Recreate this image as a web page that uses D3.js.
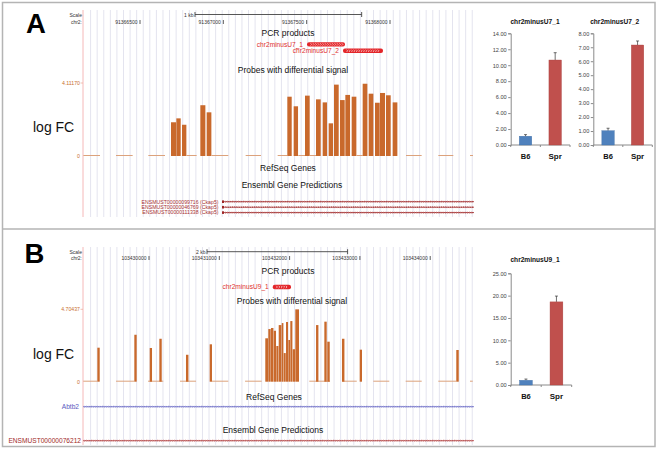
<!DOCTYPE html>
<html><head><meta charset="utf-8">
<script src="https://cdn.jsdelivr.net/npm/d3@7"></script>
<style>body{margin:0;background:#fff}svg{display:block}</style>
</head><body><svg id="c" width="661" height="450"></svg>
<script>
// ---------------- DATA ----------------
// Panel A genome browser (chr2)
const regionA = [91366158, 91368504];
const coordTicksA = [91366500, 91367000, 91367500, 91368000];
const scaleBarA = [91366830, 91367830];
const scaleLabelA = "1 kb";
const pcrNamesA = ["chr2minusU7_1", "chr2minusU7_2"];
const pcrStartsA = [91367502, 91367718];
const pcrEndsA = [91367730, 91367958];
const probeStartA = [91366686,91366718,91366752,91366862,91366900,91367384,91367422,91367490,91367556,91367596,91367632,91367664,91367700,91367732,91367770,91367836,91367872,91367910,91367940,91367976,91368016];
const probeEndA   = [91366718,91366746,91366780,91366894,91366930,91367412,91367450,91367520,91367586,91367624,91367660,91367694,91367730,91367762,91367800,91367866,91367902,91367940,91367972,91368006,91368046];
const probeValueA = [1.90,2.12,1.76,2.86,2.46,3.34,2.80,3.40,3.19,3.02,1.84,4.02,3.15,3.44,3.34,4.07,3.51,3.00,3.55,3.42,3.02];
const zeroStartA = [91366160,91366356,91366550,91366780,91366930,91367134,91367326,91367450,91367520,91367800,91368096,91368290,91368480];
const zeroEndA   = [91366260,91366456,91366650,91366840,91367030,91367226,91367384,91367490,91367556,91367836,91368190,91368380,91368498];
const signalMaxA = 4.11170, signalMaxLabelA = "4.11170";
const transcriptNamesA = ["ENSMUST00000099716 (Ckap5)", "ENSMUST00000046769 (Ckap5)", "ENSMUST00000111338 (Ckap5)"];
const transcriptStartA = 91366992;

// Panel B genome browser (chr2)
const regionB = [103429061, 103434623];
const coordTicksB = [103430000, 103431000, 103432000, 103433000, 103434000];
const scaleBarB = [103430825, 103432825];
const scaleLabelB = "2 kb";
const pcrNamesB = ["chr2minusU9_1"];
const pcrStartsB = [103431760];
const pcrEndsB = [103432020];
const probeStartB = [103429265,103429791,103430010,103430147,103430526,103430863,103431654,103431697,103431735,103431774,103431811,103431845,103431888,103431916,103431949,103431982,103432010,103432044,103432081,103432376,103432494,103432536,103432745,103432997,103434371];
const probeEndB   = [103429303,103429829,103430047,103430185,103430565,103430900,103431697,103431735,103431774,103431811,103431845,103431888,103431916,103431949,103431982,103432010,103432044,103432081,103432138,103432414,103432532,103432575,103432784,103433034,103434410];
const probeValueB = [2.21,3.05,2.19,2.79,1.75,2.43,2.82,3.42,3.49,3.31,2.32,3.68,3.81,1.86,3.88,2.71,3.94,2.11,4.70,3.68,3.90,2.60,2.79,2.08,2.06];
const zeroStartB = [103429065,103429531,103429986,103430441,103430892,103431366,103432280,103432750,103433191,103433651,103434115,103434566];
const zeroEndB   = [103429265,103429791,103430203,103430669,103431128,103431603,103432575,103432955,103433418,103433879,103434371,103434605];
const signalMaxB = 4.70437, signalMaxLabelB = "4.70437";
const refseqNameB = "Abtb2";
const ensemblNameB = "ENSMUST00000076212";

// qPCR bar charts
const qpcrCategories = ["B6", "Spr"];
const qpcrTitles = ["chr2minusU7_1", "chr2minusU7_2", "chr2minusU9_1"];
const qpcrU7_1 = [1.10, 10.65];
const qpcrU7_1Err = [0.20, 0.92];
const qpcrU7_2 = [1.02, 7.16];
const qpcrU7_2Err = [0.18, 0.29];
const qpcrU9_1 = [1.05, 18.6];
const qpcrU9_1Err = [0.28, 1.3];
const qpcrMax = [14, 8, 25];
const qpcrStep = [2, 1, 5];

const trackTitles = ["PCR products", "Probes with differential signal", "RefSeq Genes", "Ensembl Gene Predictions"];

// ---------------- DRAW ----------------
const FONT = '"Liberation Sans", Arial, Helvetica, sans-serif';
const svg = d3.select("#c").style("font-family", FONT);
const bar = "#c9692c", zeroCol = "#dca27c", gridCol = "#e4e4ef";

// frame
svg.append("rect").attr("x", 2.5).attr("y", 2.5).attr("width", 652.5).attr("height", 444)
  .attr("fill", "none").attr("stroke", "#b4b4b4").attr("stroke-width", 1.5);
svg.append("line").attr("x1", 2.5).attr("x2", 655).attr("y1", 229).attr("y2", 229)
  .attr("stroke", "#b4b4b4").attr("stroke-width", 1.5);

function chevrons(g, x0, x1, y, h, col, step) {
  let p = "";
  for (let xx = x0 + 1.5; xx < x1 - 1; xx += step) {
    p += `M${xx},${y - h}L${xx + h},${y}L${xx},${y + h}`;
  }
  g.append("path").attr("d", p).attr("fill", "none").attr("stroke", col).attr("stroke-width", 0.6);
}

function drawBrowser(g, D, L) {
  const x = d3.scaleLinear().domain(D.region).range(L.xRange);
  const y = d3.scaleLinear().domain([0, D.max]).range([L.sig0, L.sigMax]);
  // guidelines
  const gx = d3.range(L.xRange[0] + 7.6, L.xRange[1] + 1, 6.58);
  g.append("g").selectAll("line").data(gx).join("line")
    .attr("x1", d => d).attr("x2", d => d).attr("y1", L.gridTop).attr("y2", L.gridBottom)
    .attr("stroke", gridCol).attr("stroke-width", 1);
  g.append("line").attr("x1", L.xRange[0]).attr("x2", L.xRange[0]).attr("y1", L.gridTop).attr("y2", L.gridBottom)
    .attr("stroke", "#f5b8b8").attr("stroke-width", 1);

  // scale row
  g.append("text").attr("x", L.xRange[0] - 1).attr("y", L.scaleY).attr("text-anchor", "end")
    .attr("font-size", 5).attr("fill", "#333").text("Scale");
  g.append("text").attr("x", L.xRange[0] - 1).attr("y", L.chrY).attr("text-anchor", "end")
    .attr("font-size", 5).attr("fill", "#333").text("chr2:");
  const sb = g.append("g").attr("stroke", "#444").attr("stroke-width", 0.9);
  sb.append("line").attr("x1", x(D.scaleBar[0])).attr("x2", x(D.scaleBar[1])).attr("y1", L.barY).attr("y2", L.barY);
  sb.append("line").attr("x1", x(D.scaleBar[0])).attr("x2", x(D.scaleBar[0])).attr("y1", L.barY - 2.5).attr("y2", L.barY + 2.5);
  sb.append("line").attr("x1", x(D.scaleBar[1])).attr("x2", x(D.scaleBar[1])).attr("y1", L.barY - 2.5).attr("y2", L.barY + 2.5);
  g.append("text").attr("x", x(D.scaleBar[0]) - 1.5).attr("y", L.scaleY).attr("text-anchor", "end")
    .attr("font-size", 5).attr("fill", "#333").text(D.scaleLabel);
  const ct = g.append("g").selectAll("g").data(D.coords).join("g");
  ct.append("text").attr("x", d => x(d) - 2.5).attr("y", L.chrY).attr("text-anchor", "end")
    .attr("font-size", 5).attr("fill", "#333").text(d => d);
  ct.append("line").attr("x1", d => x(d)).attr("x2", d => x(d)).attr("y1", L.chrY - 4).attr("y2", L.chrY)
    .attr("stroke", "#333").attr("stroke-width", 0.8);

  // PCR products
  g.append("text").attr("x", L.pcrTitleX).attr("y", L.pcrTitleY).attr("text-anchor", "middle")
    .attr("font-size", 8.5).attr("fill", "#111").text(trackTitles[0]);
  D.pcrNames.forEach((nm, i) => {
    const cy = L.pcrRows[i], x0 = x(D.pcrStarts[i]), x1 = x(D.pcrEnds[i]);
    g.append("rect").attr("x", x0).attr("y", cy - 2.2).attr("width", x1 - x0).attr("height", 4.4)
      .attr("rx", 2).attr("fill", "#e3262a");
    chevrons(g, x0 + 2, x1 - 2, cy, 1.2, "#fff", 2.4);
    g.append("text").attr("x", x0 - 4).attr("y", cy + 2.3).attr("text-anchor", "end")
      .attr("font-size", 6.6).attr("fill", "#e0302e").text(nm);
  });

  // Signal track
  g.append("text").attr("x", L.probeTitleX).attr("y", L.probeTitleY).attr("text-anchor", "middle")
    .attr("font-size", 8.5).attr("fill", "#111").text(trackTitles[1]);
  g.append("text").attr("x", 33).attr("y", L.logfcY).attr("font-size", 14).attr("fill", "#111").text("log FC");
  g.append("text").attr("x", L.xRange[0] - 3).attr("y", y(D.max) + 1.8).attr("text-anchor", "end")
    .attr("font-size", 5.2).attr("fill", "#c8702e").text(D.maxLabel);
  g.append("text").attr("x", L.xRange[0] - 3).attr("y", y(0) + 1.8).attr("text-anchor", "end")
    .attr("font-size", 5.2).attr("fill", "#c8702e").text("0");
  g.append("line").attr("x1", L.xRange[0] - 2.5).attr("x2", L.xRange[0]).attr("y1", y(D.max)).attr("y2", y(D.max))
    .attr("stroke", "#f0b0a0").attr("stroke-width", 0.8);
  g.append("g").selectAll("line").data(D.zeroStart.map((s, i) => [s, D.zeroEnd[i]])).join("line")
    .attr("x1", d => x(d[0])).attr("x2", d => x(d[1])).attr("y1", y(0) - 0.5).attr("y2", y(0) - 0.5)
    .attr("stroke", zeroCol).attr("stroke-width", 1);
  g.append("g").selectAll("rect").data(D.probeStart.map((s, i) => [s, D.probeEnd[i], D.probeValue[i]])).join("rect")
    .attr("x", d => x(d[0])).attr("width", d => Math.max(0.8, x(d[1]) - x(d[0]) - 0.3))
    .attr("y", d => y(d[2])).attr("height", d => y(0) - y(d[2]))
    .attr("fill", bar);

  // gene tracks titles
  g.append("text").attr("x", L.refX).attr("y", L.refY).attr("text-anchor", "middle")
    .attr("font-size", 8.5).attr("fill", "#111").text(trackTitles[2]);
  g.append("text").attr("x", L.ensX).attr("y", L.ensY).attr("text-anchor", "middle")
    .attr("font-size", 8.5).attr("fill", "#111").text(trackTitles[3]);
  return x;
}

// ---- Panel A ----
const gA = svg.append("g");
gA.append("text").attr("x", 36).attr("y", 33).attr("text-anchor", "middle")
  .attr("font-size", 27.5).attr("font-weight", "bold").attr("fill", "#000").text("A");
const xA = drawBrowser(gA, {
  region: regionA, coords: coordTicksA, scaleBar: scaleBarA, scaleLabel: scaleLabelA,
  pcrNames: pcrNamesA, pcrStarts: pcrStartsA, pcrEnds: pcrEndsA,
  probeStart: probeStartA, probeEnd: probeEndA, probeValue: probeValueA,
  zeroStart: zeroStartA, zeroEnd: zeroEndA, max: signalMaxA, maxLabel: signalMaxLabelA
}, {
  xRange: [83, 474], gridTop: 10, gridBottom: 217,
  scaleY: 16.5, chrY: 24, barY: 14.5,
  pcrTitleX: 288, pcrTitleY: 36, pcrRows: [44.4, 50.8],
  probeTitleX: 293, probeTitleY: 72.8, sig0: 156, sigMax: 83, logfcY: 132,
  refX: 288, refY: 171, ensX: 292, ensY: 187.8
});
const txRowsA = [201.7, 207.2, 212.6];
transcriptNamesA.forEach((nm, i) => {
  const yy = txRowsA[i], x0 = xA(transcriptStartA), x1 = xA(regionA[1]);
  gA.append("line").attr("x1", x0).attr("x2", x1).attr("y1", yy).attr("y2", yy)
    .attr("stroke", "#9e2424").attr("stroke-width", 0.8);
  chevrons(gA, x0 + 2, x1, yy, 0.9, "#9e2424", 2.2);
  gA.append("rect").attr("x", x0).attr("y", yy - 1.3).attr("width", 2).attr("height", 2.6).attr("fill", "#9e2424");
  gA.append("text").attr("x", x0 - 3.5).attr("y", yy + 1.8).attr("text-anchor", "end")
    .attr("font-size", 5.2).attr("fill", "#a83030").text(nm);
});

// ---- Panel B ----
const gB = svg.append("g");
gB.append("text").attr("x", 34.5).attr("y", 263).attr("text-anchor", "middle")
  .attr("font-size", 27.5).attr("font-weight", "bold").attr("fill", "#000").text("B");
const xB = drawBrowser(gB, {
  region: regionB, coords: coordTicksB, scaleBar: scaleBarB, scaleLabel: scaleLabelB,
  pcrNames: pcrNamesB, pcrStarts: pcrStartsB, pcrEnds: pcrEndsB,
  probeStart: probeStartB, probeEnd: probeEndB, probeValue: probeValueB,
  zeroStart: zeroStartB, zeroEnd: zeroEndB, max: signalMaxB, maxLabel: signalMaxLabelB
}, {
  xRange: [83, 474], gridTop: 247, gridBottom: 445,
  scaleY: 253.8, chrY: 260, barY: 251.7,
  pcrTitleX: 288, pcrTitleY: 273.8, pcrRows: [287],
  probeTitleX: 292, probeTitleY: 304.4, sig0: 381.7, sigMax: 309.3, logfcY: 359,
  refX: 274, refY: 400, ensX: 273, ensY: 432.8
});
// RefSeq Abtb2 and Ensembl transcript
{
  const yy = 406.7, x0 = xB(regionB[0]), x1 = xB(regionB[1]);
  gB.append("line").attr("x1", x0).attr("x2", x1).attr("y1", yy).attr("y2", yy).attr("stroke", "#6767c4").attr("stroke-width", 0.8);
  chevrons(gB, x0, x1, yy, 0.9, "#6767c4", 2.2);
  gB.append("text").attr("x", x0 - 4).attr("y", yy + 2).attr("text-anchor", "end")
    .attr("font-size", 6.6).attr("fill", "#5a5ac0").text(refseqNameB);
  const y2 = 440.7;
  gB.append("line").attr("x1", x0).attr("x2", x1).attr("y1", y2).attr("y2", y2).attr("stroke", "#b03a3a").attr("stroke-width", 0.8);
  chevrons(gB, x0, x1, y2, 0.9, "#b03a3a", 2.2);
  gB.append("text").attr("x", x0 - 2).attr("y", y2 + 2.3).attr("text-anchor", "end")
    .attr("font-size", 6.6).attr("fill", "#a02828").text(ensemblNameB);
}

// ---- qPCR charts ----
function drawQpcr(title, vals, errs, yMax, yStep, L) {
  const g = svg.append("g");
  const y = d3.scaleLinear().domain([0, yMax]).range([L.y0, L.y1]);
  const x = d3.scaleBand().domain(qpcrCategories).range([L.x0, L.x1]).paddingInner(0.58).paddingOuter(0.29);
  const ax = g.append("g").attr("transform", `translate(${L.x0},0)`)
    .call(d3.axisLeft(y).tickValues(d3.range(0, yMax + 1e-9, yStep)).tickFormat(d3.format(".2f")).tickSize(2.5).tickPadding(1.5));
  ax.select(".domain").attr("stroke", "#8a8a8a").attr("stroke-width", 1);
  ax.selectAll(".tick line").attr("stroke", "#8a8a8a");
  ax.selectAll(".tick text").attr("font-size", 5.6).attr("fill", "#444").attr("font-family", FONT);
  // x axis
  g.append("line").attr("x1", L.x0).attr("x2", L.x1).attr("y1", L.y0).attr("y2", L.y0).attr("stroke", "#8a8a8a").attr("stroke-width", 1);
  const bounds = [L.x0, (x("B6") + x.bandwidth() + x("Spr")) / 2, L.x1];
  g.selectAll(".xt").data(bounds).join("line").attr("x1", d => d).attr("x2", d => d).attr("y1", L.y0).attr("y2", L.y0 + 2)
    .attr("stroke", "#8a8a8a");
  const cols = ["#4f81bd", "#c0504d"];
  const strokes = ["#3f6ea6", "#a8403e"];
  qpcrCategories.forEach((c, i) => {
    const bx = x(c), bw = x.bandwidth(), cx = bx + bw / 2;
    g.append("line").attr("x1", cx).attr("x2", cx).attr("y1", y(vals[i])).attr("y2", y(vals[i] + errs[i])).attr("stroke", "#333").attr("stroke-width", 0.7);
    g.append("line").attr("x1", cx - 1.5).attr("x2", cx + 1.5).attr("y1", y(vals[i] + errs[i])).attr("y2", y(vals[i] + errs[i])).attr("stroke", "#333").attr("stroke-width", 0.7);
    g.append("rect").attr("x", bx).attr("y", y(vals[i])).attr("width", bw).attr("height", L.y0 - y(vals[i]))
      .attr("fill", cols[i]).attr("stroke", strokes[i]).attr("stroke-width", 0.4);
    g.append("text").attr("x", cx).attr("y", L.labelY).attr("text-anchor", "middle")
      .attr("font-size", i === 0 ? 7.5 : 8).attr("font-weight", "bold").attr("fill", "#111").text(c);
  });
  g.append("text").attr("x", L.titleX).attr("y", L.titleY).attr("text-anchor", "middle")
    .attr("font-size", 6.6).attr("font-weight", "bold").attr("fill", "#111").text(title);
}
drawQpcr(qpcrTitles[0], qpcrU7_1, qpcrU7_1Err, qpcrMax[0], qpcrStep[0],
  { x0: 510.7, x1: 570, y0: 145, y1: 33.3, labelY: 159.3, titleX: 535, titleY: 24.3 });
drawQpcr(qpcrTitles[1], qpcrU7_2, qpcrU7_2Err, qpcrMax[1], qpcrStep[1],
  { x0: 593.3, x1: 652.3, y0: 145, y1: 33.3, labelY: 159.3, titleX: 614.7, titleY: 24.3 });
drawQpcr(qpcrTitles[2], qpcrU9_1, qpcrU9_1Err, qpcrMax[2], qpcrStep[2],
  { x0: 510.7, x1: 571.7, y0: 385, y1: 273.3, labelY: 399, titleX: 535, titleY: 262.3 });
</script></body></html>
